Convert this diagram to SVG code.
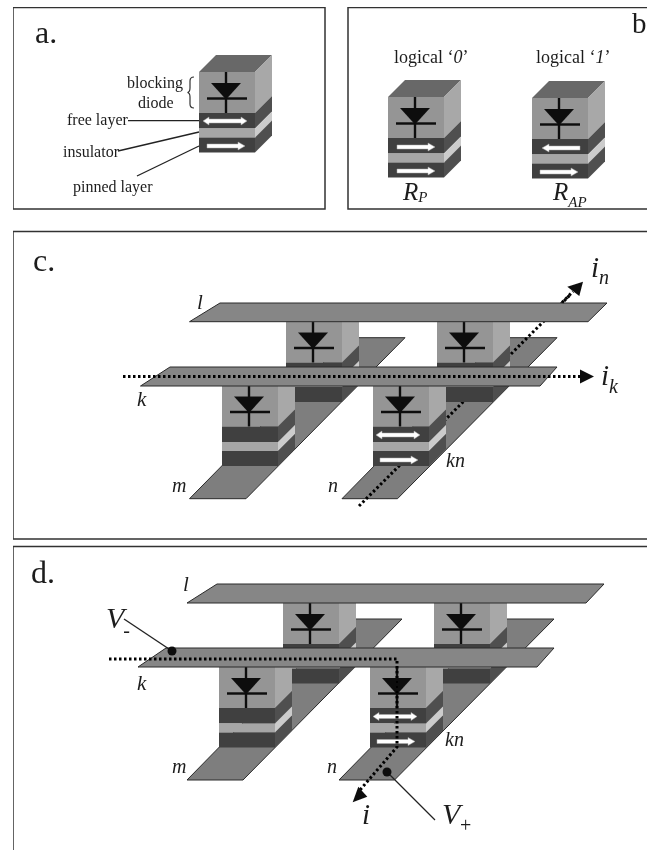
<svg xmlns="http://www.w3.org/2000/svg" xmlns:xlink="http://www.w3.org/1999/xlink" width="647" height="850" viewBox="0 0 647 850">
<style>
text{font-family:"Liberation Serif","Times New Roman",serif;fill:#1c1c1c}
.it{font-style:italic}
.frame{fill:none;stroke:#333;stroke-width:1.5}
.lead{fill:none;stroke:#222;stroke-width:1.3}
.brace{fill:none;stroke:#333;stroke-width:1.2}
.dot{fill:none;stroke:#000;stroke-width:3;stroke-dasharray:2.5 2.5}
.head{fill:#111}
.line{fill:#868686;stroke:#2a2a2a;stroke-width:1}
.bit{fill:#7e7e7e;stroke:#2a2a2a;stroke-width:1}
.top{fill:#686868}.fd{fill:#959595}.sd{fill:#a8a8a8}
.fk{fill:#404040}.sk{fill:#505050}.fi{fill:#a6a6a6}.si{fill:#cccccc}
.sym{stroke:#111;stroke-width:2.4;fill:none}
.arr{fill:#fff;stroke:#aaa;stroke-width:.5}
.pin{fill:#111}
</style>
<defs>
<filter id="soft" x="0" y="0" width="100%" height="100%"><feGaussianBlur stdDeviation="0.3"/></filter>
<g id="cell">
<polygon class="top" points="0,0 56,0 73,-17 17,-17"/>
<rect class="fd" x="0" y="0" width="56" height="41"/>
<polygon class="sd" points="56,0 73,-17 73,24 56,41"/>
<rect class="fk" x="0" y="41" width="56" height="15.5"/>
<polygon class="sk" points="56,41 73,24 73,39.5 56,56.5"/>
<rect class="fi" x="0" y="56.5" width="56" height="9"/>
<polygon class="si" points="56,56.5 73,39.5 73,48.5 56,65.5"/>
<rect class="fk" x="0" y="65.5" width="56" height="15"/>
<polygon class="sk" points="56,65.5 73,48.5 73,63.5 56,80.5"/>
<line class="sym" x1="27" y1="0" x2="27" y2="41"/>
<polygon points="12,11 42,11 27,27.5" fill="#111"/>
<line class="sym" x1="8" y1="26.5" x2="48" y2="26.5"/>
</g>
<polygon id="arR" class="arr" points="0,-2 31,-2 31,-4 38,0 31,4 31,2 0,2"/>
<polygon id="arL" class="arr" points="38,-2 7,-2 7,-4 0,0 7,4 7,2 38,2"/>
<polygon id="arD" class="arr" points="0,0 6,-4 6,-2 38,-2 38,-4 44,0 38,4 38,2 6,2 6,4"/>
</defs>

<rect fill="#fff" width="647" height="850"/>
<g id="diagram" filter="url(#soft)">

<g id="frames">
<rect class="frame" x="13" y="7.5" width="312" height="201.5"/>
<path class="frame" d="M648,7.5H348V209H648"/>
<path class="frame" d="M648,231.5H13V539H648"/>
<path class="frame" d="M648,546.5H13V851"/>
</g>

<g id="panel-a">
<text x="35" y="43" font-size="32">a.</text>
<g id="a-cell" transform="translate(199,72)">
<use href="#cell"/>
<use href="#arD" x="4" y="49"/>
<use href="#arR" x="8" y="74"/>
</g>
<g id="a-labels" font-size="16">
<text x="127" y="88">blocking</text>
<text x="138" y="108">diode</text>
<text x="67" y="125">free layer</text>
<text x="63" y="157">insulator</text>
<text x="73" y="192">pinned layer</text>
</g>
<g id="a-connectors">
<path class="brace" d="M194,77Q190,77 190,81V88Q190,92 187.5,92.5Q190,93 190,97V104Q190,108 194,108"/>
<line class="lead" x1="128" y1="120.7" x2="199" y2="120.7"/>
<line class="lead" x1="118" y1="151" x2="199" y2="132"/>
<line class="lead" x1="137" y1="176" x2="199" y2="146"/>
</g>
</g>

<g id="panel-b">
<text x="632" y="33" font-size="29">b</text>
<text x="394" y="63" font-size="18">logical ‘<tspan class="it">0</tspan>’</text>
<text x="536" y="63" font-size="18">logical ‘<tspan class="it">1</tspan>’</text>
<g id="b-cell-0" transform="translate(388,97)">
<use href="#cell"/>
<use href="#arR" x="9" y="50"/>
<use href="#arR" x="9" y="74"/>
</g>
<g id="b-cell-1" transform="translate(532,98)">
<use href="#cell"/>
<use href="#arL" x="10" y="50"/>
<use href="#arR" x="8" y="74"/>
</g>
<text class="it" x="403" y="200" font-size="25">R<tspan font-size="15" dy="2">P</tspan></text>
<text class="it" x="553" y="200" font-size="25">R<tspan font-size="15" dy="7">AP</tspan></text>
</g>

<g id="panel-c">
<text x="33" y="271" font-size="32">c.</text>
<g id="c-bitlines">
<polygon class="bit" points="189.5,498.7 246,498.7 405,337.7 348,337.7"/>
<polygon class="bit" points="342,498.7 397.5,498.7 557,337.7 500,337.7"/>
</g>
<g id="c-connectors-under">
<line class="dot" x1="359" y1="506" x2="570" y2="295"/>
</g>
<g id="c-back-cells">
<use id="c-cell-lm" href="#cell" x="286" y="321.5"/>
<use id="c-cell-ln" href="#cell" x="437" y="321.5"/>
</g>
<g id="c-front-cells">
<use id="c-cell-km" href="#cell" x="222" y="385.5"/>
<g id="c-cell-kn" transform="translate(373,385.5)">
<use href="#cell"/>
<use href="#arD" x="3" y="49.5"/>
<use href="#arR" x="7" y="74.5"/>
</g>
</g>
<g id="c-wordlines">
<polygon class="line" points="189.5,321.7 220,303 607,303 588,321.7"/>
<polygon class="line" points="140.5,386 170,367 557,367 540,386"/>
</g>
<g id="c-connectors-over">
<line class="dot" x1="123" y1="376.6" x2="581" y2="376.6"/>
<polygon class="head" points="594,376.6 580,369.6 580,383.6"/>
<line class="dot" x1="562" y1="302.5" x2="573" y2="291.5"/>
<polygon class="head" points="583,281.7 567.3,286.7 579.3,296"/>
</g>
<g id="c-labels" font-size="20">
<text class="it" x="197" y="309" font-size="21">l</text>
<text class="it" x="137" y="406" font-size="21">k</text>
<text class="it" x="172" y="492">m</text>
<text class="it" x="328" y="492">n</text>
<text class="it" x="446" y="467">kn</text>
<text class="it" x="591" y="277" font-size="29">i<tspan font-size="20" dy="7">n</tspan></text>
<text class="it" x="601" y="385" font-size="29">i<tspan font-size="20" dy="8">k</tspan></text>
</g>
</g>

<g id="panel-d">
<text x="31" y="583" font-size="32">d.</text>
<g id="d-bitlines">
<polygon class="bit" points="187,780 243,780 402,619 345,619"/>
<polygon class="bit" points="339,780 394.5,780 554,619 497,619"/>
</g>
<g id="d-back-cells">
<use id="d-cell-lm" href="#cell" x="283" y="603"/>
<use id="d-cell-ln" href="#cell" x="434" y="603"/>
</g>
<g id="d-front-cells">
<use id="d-cell-km" href="#cell" x="219" y="667"/>
<g id="d-cell-kn" transform="translate(370,667)">
<use href="#cell"/>
<use href="#arD" x="3" y="49.5"/>
<use href="#arR" x="7" y="74.5"/>
</g>
</g>
<g id="d-wordlines">
<polygon class="line" points="187,603 217,584 604,584 586,603"/>
<polygon class="line" points="138,667 166,648 554,648 537,667"/>
</g>
<g id="d-connectors">
<path class="dot" d="M109,659H397V747L360,790"/>
<polygon class="head" points="352.7,802.3 358.3,786.7 367.3,796.7"/>
<line class="lead" x1="124" y1="619" x2="172" y2="651"/>
<circle class="pin" cx="172" cy="651" r="4.5"/>
<line class="lead" x1="387" y1="772" x2="435" y2="820"/>
<circle class="pin" cx="387" cy="772" r="4.5"/>
</g>
<g id="d-labels">
<text class="it" x="183" y="591" font-size="21">l</text>
<text class="it" x="137" y="690" font-size="21">k</text>
<text class="it" x="172" y="773" font-size="20">m</text>
<text class="it" x="327" y="773" font-size="20">n</text>
<text class="it" x="445" y="746" font-size="20">kn</text>
<text class="it" x="106" y="628" font-size="30">V<tspan font-size="20" dy="9" dx="-1">-</tspan></text>
<text class="it" x="442" y="824" font-size="30">V</text>
<text x="460" y="832" font-size="20">+</text>
<text class="it" x="362" y="824" font-size="29">i</text>
</g>
</g>
</g>
</svg>
